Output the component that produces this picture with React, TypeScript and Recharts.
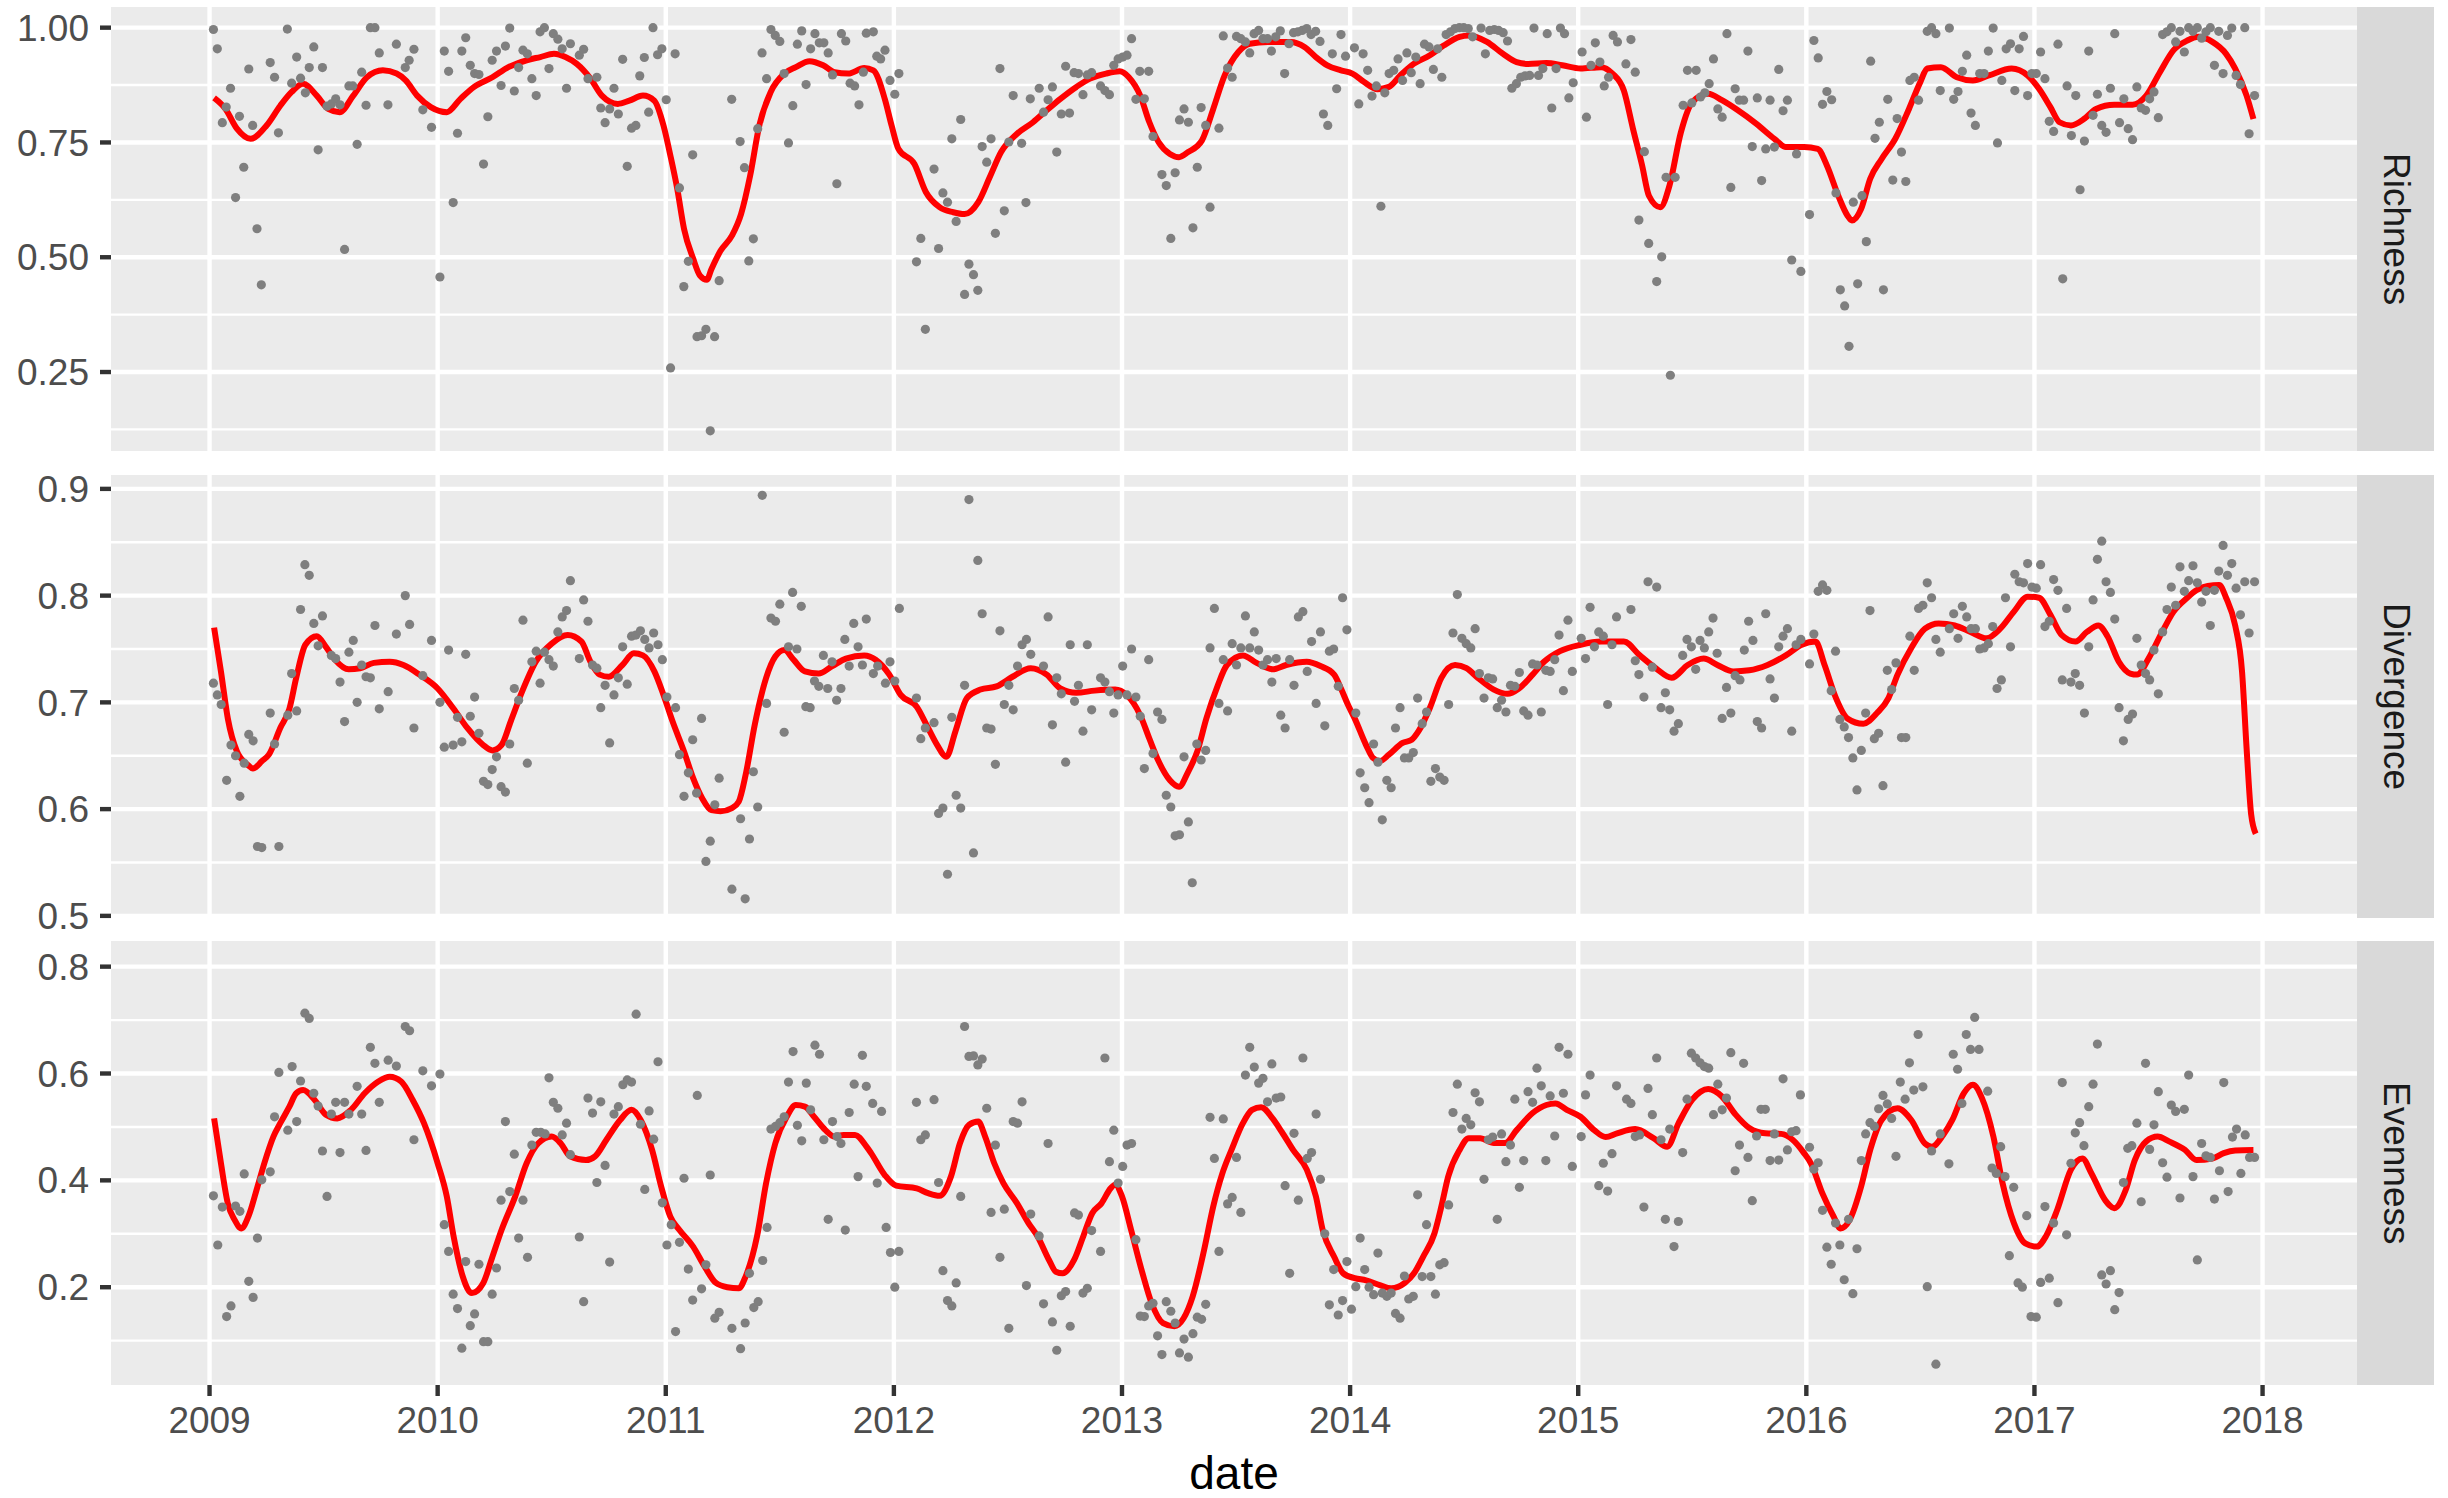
import { ComposedChart, Scatter, Line, XAxis, YAxis, CartesianGrid, ReferenceLine } from 'recharts';

// weekly index values as [decimal year, value]
const richnessPoints: [number, number][] = [
  [2009.017,0.996],[2009.034,0.954],[2009.056,0.793],[2009.073,0.827],[2009.092,0.868],[2009.114,0.630],[2009.131,0.807],[2009.150,0.696],[2009.172,0.910],[2009.189,0.787],
  [2009.208,0.562],[2009.227,0.440],[2009.266,0.924],[2009.285,0.892],[2009.302,0.771],[2009.341,0.997],[2009.360,0.879],[2009.382,0.936],[2009.399,0.890],[2009.420,0.858],
  [2009.437,0.913],[2009.457,0.958],[2009.476,0.734],[2009.495,0.913],[2009.515,0.829],[2009.534,0.834],[2009.553,0.845],[2009.572,0.832],[2009.592,0.517],[2009.611,0.873],
  [2009.628,0.873],[2009.647,0.746],[2009.667,0.903],[2009.686,0.831],[2009.705,1.0],[2009.725,1.0],[2009.744,0.945],[2009.782,0.832],[2009.819,0.964],[2009.858,0.913],
  [2009.875,0.929],[2009.896,0.953],[2009.935,0.821],[2009.973,0.783],[2010.010,0.457],[2010.029,0.949],[2010.048,0.905],[2010.068,0.619],[2010.087,0.770],[2010.106,0.949],
  [2010.123,0.978],[2010.143,0.918],[2010.162,0.900],[2010.181,0.898],[2010.201,0.703],[2010.220,0.806],[2010.239,0.929],[2010.258,0.949],[2010.278,0.874],[2010.297,0.960],
  [2010.316,0.999],[2010.336,0.862],[2010.355,0.913],[2010.374,0.951],[2010.393,0.943],[2010.413,0.889],[2010.432,0.852],[2010.449,0.991],[2010.468,1.0],[2010.488,0.911],
  [2010.507,0.987],[2010.527,0.975],[2010.546,0.954],[2010.565,0.868],[2010.582,0.965],[2010.621,0.940],[2010.640,0.953],[2010.659,0.889],[2010.698,0.892],[2010.715,0.825],
  [2010.734,0.793],[2010.754,0.823],[2010.773,0.868],[2010.792,0.812],[2010.811,0.931],[2010.831,0.698],[2010.850,0.781],[2010.869,0.787],[2010.886,0.895],[2010.906,0.935],
  [2010.925,0.816],[2010.944,1.0],[2010.964,0.941],[2010.983,0.954],[2011.002,0.843],[2011.021,0.259],[2011.041,0.943],[2011.060,0.651],[2011.079,0.436],[2011.099,0.491],
  [2011.118,0.723],[2011.137,0.327],[2011.157,0.329],[2011.176,0.343],[2011.195,0.122],[2011.214,0.327],[2011.234,0.449],[2011.289,0.844],[2011.326,0.752],[2011.345,0.695],
  [2011.364,0.492],[2011.384,0.540],[2011.403,0.780],[2011.422,0.945],[2011.442,0.889],[2011.461,0.996],[2011.480,0.983],[2011.500,0.970],[2011.519,0.900],[2011.538,0.749],
  [2011.557,0.830],[2011.577,0.964],[2011.596,0.993],[2011.615,0.876],[2011.635,0.954],[2011.654,0.987],[2011.673,0.967],[2011.693,0.967],[2011.712,0.945],[2011.731,0.897],
  [2011.750,0.660],[2011.770,0.987],[2011.789,0.971],[2011.808,0.879],[2011.828,0.873],[2011.847,0.832],[2011.866,0.903],[2011.879,0.988],
  [2011.910,0.991],[2011.925,0.938],[2011.942,0.932],[2011.961,0.951],[2011.983,0.885],[2012.004,0.855],[2012.022,0.900],[2012.099,0.490],[2012.118,0.541],[2012.138,0.343],
  [2012.176,0.692],[2012.196,0.519],[2012.215,0.640],[2012.235,0.620],[2012.254,0.758],[2012.273,0.578],[2012.293,0.800],[2012.310,0.419],[2012.329,0.485],[2012.349,0.462],
  [2012.368,0.428],[2012.387,0.741],[2012.407,0.707],[2012.426,0.758],[2012.445,0.552],[2012.465,0.911],[2012.484,0.601],[2012.504,0.751],[2012.523,0.852],[2012.560,0.748],
  [2012.579,0.619],[2012.598,0.845],[2012.637,0.868],[2012.656,0.816],[2012.676,0.843],[2012.695,0.871],[2012.714,0.729],[2012.734,0.812],[2012.753,0.916],[2012.770,0.814],
  [2012.790,0.902],[2012.809,0.900],[2012.829,0.854],[2012.848,0.897],[2012.867,0.902],[2012.906,0.873],[2012.925,0.863],[2012.945,0.854],[2012.964,0.918],[2012.983,0.932],
  [2013.003,0.936],[2013.022,0.940],[2013.042,0.976],[2013.061,0.844],[2013.078,0.905],[2013.098,0.845],[2013.117,0.905],[2013.136,0.763],[2013.175,0.680],[2013.194,0.656],
  [2013.214,0.541],[2013.233,0.684],[2013.252,0.799],[2013.272,0.823],[2013.291,0.794],[2013.311,0.564],[2013.330,0.696],[2013.347,0.826],[2013.367,0.787],[2013.386,0.609],
  [2013.425,0.781],[2013.444,0.982],[2013.463,0.912],[2013.483,0.892],[2013.502,0.981],[2013.521,0.976],[2013.541,0.969],[2013.560,0.945],[2013.579,0.987],[2013.599,0.994],
  [2013.618,0.976],[2013.638,0.976],[2013.655,0.949],[2013.674,0.980],[2013.694,0.993],[2013.713,0.900],[2013.732,0.965],[2013.752,0.989],[2013.771,0.991],[2013.790,0.994],
  [2013.810,0.998],[2013.829,0.985],[2013.849,0.992],[2013.868,0.970],[2013.883,0.812],[2013.902,0.787],[2013.922,0.943],[2013.941,0.867],[2013.960,0.985],[2013.980,0.938],
  [2014.019,0.956],[2014.038,0.834],[2014.057,0.943],[2014.077,0.907],[2014.096,0.851],[2014.115,0.873],[2014.135,0.611],[2014.152,0.858],[2014.171,0.900],[2014.191,0.907],
  [2014.210,0.932],[2014.230,0.885],[2014.249,0.945],[2014.268,0.902],[2014.288,0.936],[2014.307,0.878],[2014.326,0.964],[2014.346,0.958],[2014.365,0.909],[2014.384,0.954],
  [2014.402,0.892],[2014.421,0.985],[2014.440,0.991],[2014.460,0.998],[2014.479,1.0],[2014.498,1.0],[2014.518,0.998],[2014.537,0.980],[2014.574,0.999],[2014.593,0.943],
  [2014.612,0.994],[2014.632,0.996],[2014.651,0.994],[2014.671,0.989],[2014.690,0.971],[2014.709,0.868],[2014.729,0.878],[2014.748,0.892],[2014.767,0.895],[2014.787,0.896],
  [2014.806,0.999],[2014.826,0.896],[2014.845,0.911],[2014.864,0.987],[2014.884,0.825],[2014.903,0.911],[2014.922,0.999],[2014.940,0.987],[2014.959,0.847],[2014.978,0.880],
  [2015.017,0.947],[2015.036,0.805],[2015.056,0.918],[2015.075,0.967],[2015.095,0.925],[2015.114,0.873],[2015.133,0.892],[2015.153,0.983],[2015.172,0.969],
  [2015.209,0.921],[2015.231,0.974],[2015.250,0.903],[2015.266,0.581],[2015.290,0.730],[2015.309,0.530],[2015.344,0.447],[2015.366,0.501],[2015.385,0.674],[2015.404,0.243],
  [2015.425,0.674],[2015.460,0.831],[2015.479,0.907],[2015.498,0.836],[2015.517,0.907],[2015.536,0.849],[2015.555,0.858],[2015.574,0.878],[2015.593,0.932],[2015.612,0.823],
  [2015.631,0.805],[2015.652,0.987],[2015.669,0.652],[2015.688,0.867],[2015.706,0.842],[2015.725,0.842],[2015.744,0.949],[2015.763,0.741],[2015.785,0.847],[2015.804,0.667],
  [2015.822,0.736],[2015.841,0.842],[2015.860,0.740],[2015.879,0.909],[2015.898,0.819],[2015.917,0.842],[2015.936,0.494],[2015.957,0.725],[2015.976,0.469],[2016.014,0.593],
  [2016.033,0.972],[2016.052,0.934],[2016.071,0.833],[2016.090,0.861],[2016.111,0.843],[2016.130,0.640],[2016.149,0.429],[2016.168,0.394],[2016.187,0.306],[2016.206,0.620],
  [2016.225,0.442],[2016.244,0.634],[2016.263,0.534],[2016.282,0.927],[2016.301,0.759],[2016.320,0.794],[2016.338,0.429],[2016.357,0.844],[2016.379,0.668],[2016.398,0.802],
  [2016.417,0.729],[2016.436,0.665],[2016.454,0.885],[2016.473,0.892],[2016.492,0.842],[2016.530,0.992],[2016.549,1.0],[2016.568,0.987],[2016.587,0.863],[2016.627,0.999],
  [2016.646,0.844],[2016.665,0.861],[2016.684,0.905],[2016.703,0.940],[2016.722,0.814],[2016.741,0.787],[2016.760,0.900],[2016.779,0.900],[2016.798,0.949],[2016.819,0.999],
  [2016.838,0.749],[2016.857,0.885],[2016.876,0.954],[2016.895,0.965],[2016.914,0.863],[2016.933,0.954],[2016.952,0.981],[2016.970,0.852],[2016.989,0.900],[2017.008,0.900],
  [2017.027,0.947],[2017.046,0.889],[2017.065,0.796],[2017.084,0.774],[2017.103,0.964],[2017.124,0.453],[2017.143,0.873],[2017.162,0.765],[2017.181,0.852],[2017.200,0.647],
  [2017.219,0.753],[2017.238,0.949],[2017.257,0.809],[2017.276,0.855],[2017.295,0.787],[2017.314,0.772],[2017.333,0.868],[2017.352,0.987],[2017.373,0.793],[2017.392,0.845],
  [2017.411,0.780],[2017.430,0.756],[2017.449,0.871],[2017.468,0.825],[2017.487,0.820],[2017.505,0.845],[2017.524,0.860],[2017.543,0.804],[2017.562,0.985],[2017.581,0.991],
  [2017.600,1.0],[2017.619,0.969],[2017.638,0.992],[2017.657,0.947],[2017.676,1.0],[2017.695,0.992],[2017.714,1.0],[2017.733,0.977],[2017.752,0.991],[2017.771,1.0],
  [2017.789,0.918],[2017.808,0.992],[2017.827,0.900],[2017.846,0.983],[2017.865,0.999],[2017.884,0.896],[2017.903,0.876],[2017.922,1.0],[2017.941,0.769],[2017.965,0.852],
];

const richnessSmooth: [number, number][] = [
  [2009.02,0.847],[2009.07,0.823],[2009.12,0.780],[2009.18,0.758],[2009.25,0.787],[2009.31,0.830],[2009.36,0.860],[2009.41,0.878],[2009.47,0.852],[2009.52,0.823],
  [2009.57,0.816],[2009.63,0.852],[2009.69,0.892],[2009.76,0.907],[2009.82,0.900],[2009.86,0.885],[2009.91,0.852],[2009.97,0.827],[2010.04,0.816],[2010.10,0.845],
  [2010.16,0.871],[2010.24,0.892],[2010.31,0.914],[2010.39,0.929],[2010.45,0.936],[2010.51,0.943],[2010.56,0.936],[2010.61,0.921],[2010.67,0.889],[2010.72,0.852],
  [2010.79,0.834],[2010.84,0.841],[2010.90,0.852],[2010.95,0.841],[2010.99,0.787],[2011.02,0.722],[2011.05,0.650],[2011.08,0.562],[2011.12,0.497],[2011.15,0.460],
  [2011.18,0.451],[2011.20,0.474],[2011.24,0.514],[2011.29,0.547],[2011.33,0.594],[2011.37,0.678],[2011.41,0.787],[2011.46,0.860],[2011.52,0.900],[2011.57,0.914],
  [2011.63,0.927],[2011.69,0.918],[2011.74,0.903],[2011.80,0.900],[2011.87,0.912],[2011.91,0.907],[2011.96,0.845],[2011.99,0.787],[2012.02,0.736],[2012.09,0.703],
  [2012.14,0.642],[2012.20,0.609],[2012.26,0.598],[2012.31,0.594],[2012.37,0.620],[2012.42,0.674],[2012.47,0.729],[2012.54,0.769],[2012.61,0.794],[2012.67,0.820],
  [2012.73,0.845],[2012.80,0.871],[2012.86,0.889],[2012.93,0.900],[2012.99,0.905],[2013.03,0.892],[2013.08,0.852],[2013.12,0.794],[2013.16,0.751],[2013.21,0.725],
  [2013.25,0.718],[2013.29,0.729],[2013.35,0.754],[2013.40,0.823],[2013.45,0.896],[2013.51,0.947],[2013.56,0.965],[2013.64,0.969],[2013.74,0.969],[2013.80,0.958],
  [2013.85,0.936],[2013.90,0.918],[2013.96,0.907],[2014.01,0.900],[2014.06,0.882],[2014.12,0.866],[2014.17,0.871],[2014.22,0.896],[2014.27,0.918],[2014.35,0.940],
  [2014.41,0.961],[2014.48,0.980],[2014.52,0.983],[2014.60,0.969],[2014.67,0.943],[2014.73,0.925],[2014.78,0.921],[2014.86,0.923],[2014.93,0.918],[2015.01,0.911],
  [2015.10,0.914],[2015.15,0.900],[2015.20,0.863],[2015.24,0.780],[2015.28,0.700],[2015.31,0.634],[2015.36,0.609],[2015.40,0.656],[2015.45,0.772],[2015.50,0.838],
  [2015.57,0.856],[2015.63,0.842],[2015.70,0.820],[2015.78,0.791],[2015.86,0.758],[2015.91,0.740],[2015.99,0.740],[2016.05,0.736],[2016.09,0.700],[2016.14,0.634],
  [2016.18,0.591],[2016.20,0.580],[2016.24,0.605],[2016.28,0.671],[2016.33,0.714],[2016.39,0.758],[2016.45,0.823],[2016.50,0.882],[2016.53,0.911],[2016.59,0.914],
  [2016.66,0.892],[2016.73,0.885],[2016.80,0.896],[2016.90,0.911],[2016.97,0.896],[2017.02,0.867],[2017.07,0.827],[2017.11,0.794],[2017.16,0.787],[2017.22,0.802],
  [2017.27,0.823],[2017.35,0.832],[2017.43,0.832],[2017.49,0.852],[2017.55,0.903],[2017.61,0.951],[2017.67,0.972],[2017.72,0.980],[2017.78,0.969],[2017.84,0.943],
  [2017.88,0.911],[2017.93,0.852],[2017.96,0.801],
];

const divergencePoints: [number, number][] = [
  [2009.017,0.718],[2009.034,0.707],[2009.051,0.698],[2009.075,0.627],[2009.094,0.660],[2009.114,0.650],[2009.133,0.612],[2009.152,0.643],[2009.172,0.670],[2009.191,0.664],
  [2009.210,0.565],[2009.229,0.564],[2009.266,0.690],[2009.285,0.661],[2009.304,0.565],[2009.343,0.688],[2009.360,0.727],[2009.382,0.692],[2009.399,0.787],[2009.418,0.829],
  [2009.437,0.819],[2009.457,0.774],[2009.476,0.753],[2009.495,0.781],[2009.534,0.744],[2009.553,0.741],[2009.572,0.719],[2009.592,0.682],[2009.611,0.747],[2009.630,0.758],
  [2009.647,0.700],[2009.667,0.735],[2009.686,0.724],[2009.705,0.723],[2009.725,0.772],[2009.744,0.694],[2009.783,0.710],[2009.819,0.764],[2009.858,0.800],[2009.877,0.773],
  [2009.896,0.676],[2009.935,0.725],[2009.973,0.758],[2010.010,0.700],[2010.029,0.658],[2010.048,0.749],[2010.068,0.660],[2010.087,0.686],[2010.106,0.663],[2010.123,0.745],
  [2010.143,0.687],[2010.162,0.705],[2010.181,0.671],[2010.201,0.626],[2010.220,0.623],[2010.239,0.637],[2010.258,0.649],[2010.278,0.621],[2010.297,0.616],[2010.316,0.661],
  [2010.336,0.713],[2010.355,0.702],[2010.374,0.777],[2010.393,0.643],[2010.413,0.738],[2010.432,0.748],[2010.449,0.718],[2010.468,0.747],[2010.488,0.740],[2010.507,0.734],
  [2010.527,0.766],[2010.546,0.780],[2010.565,0.786],[2010.582,0.814],[2010.621,0.741],[2010.640,0.796],[2010.659,0.776],[2010.679,0.735],[2010.698,0.732],[2010.715,0.695],
  [2010.734,0.716],[2010.754,0.662],[2010.773,0.707],[2010.792,0.723],[2010.811,0.752],[2010.831,0.717],[2010.850,0.762],[2010.869,0.763],[2010.889,0.767],[2010.908,0.759],
  [2010.927,0.751],[2010.947,0.765],[2010.966,0.754],[2010.985,0.740],[2011.005,0.705],[2011.043,0.695],[2011.060,0.651],[2011.080,0.612],[2011.099,0.634],[2011.118,0.665],
  [2011.135,0.615],[2011.157,0.685],[2011.176,0.551],[2011.195,0.570],[2011.215,0.604],[2011.234,0.629],[2011.290,0.525],[2011.328,0.591],[2011.348,0.516],[2011.367,0.572],
  [2011.384,0.635],[2011.403,0.602],[2011.423,0.894],[2011.442,0.699],[2011.461,0.779],[2011.481,0.776],[2011.500,0.792],[2011.519,0.672],[2011.538,0.752],[2011.556,0.803],
  [2011.575,0.750],[2011.594,0.790],[2011.614,0.696],[2011.633,0.695],[2011.652,0.720],[2011.671,0.715],[2011.691,0.744],[2011.710,0.713],[2011.729,0.738],[2011.749,0.702],
  [2011.768,0.713],[2011.785,0.759],[2011.804,0.734],[2011.824,0.774],[2011.843,0.752],[2011.862,0.735],[2011.879,0.778],
  [2011.910,0.727],[2011.929,0.734],[2011.963,0.718],[2011.983,0.738],[2012.004,0.720],[2012.024,0.788],[2012.099,0.704],[2012.118,0.666],[2012.138,0.676],[2012.176,0.681],
  [2012.196,0.596],[2012.215,0.601],[2012.235,0.539],[2012.254,0.686],[2012.273,0.613],[2012.293,0.601],[2012.310,0.716],[2012.329,0.890],[2012.349,0.559],[2012.368,0.833],
  [2012.387,0.783],[2012.407,0.676],[2012.426,0.675],[2012.445,0.642],[2012.465,0.767],[2012.484,0.698],[2012.504,0.716],[2012.523,0.693],[2012.542,0.734],[2012.562,0.754],
  [2012.581,0.759],[2012.600,0.745],[2012.656,0.734],[2012.676,0.780],[2012.695,0.679],[2012.714,0.723],[2012.734,0.708],[2012.753,0.644],[2012.773,0.754],[2012.792,0.701],
  [2012.809,0.716],[2012.829,0.673],[2012.848,0.754],[2012.867,0.693],[2012.906,0.723],[2012.925,0.719],[2012.945,0.710],[2012.964,0.690],[2012.983,0.707],[2013.003,0.734],
  [2013.022,0.707],[2013.042,0.750],[2013.061,0.705],[2013.080,0.687],[2013.098,0.638],[2013.117,0.740],[2013.136,0.652],[2013.156,0.691],[2013.175,0.684],[2013.194,0.613],
  [2013.214,0.602],[2013.233,0.575],[2013.252,0.576],[2013.272,0.649],[2013.291,0.588],[2013.308,0.531],[2013.328,0.661],[2013.347,0.646],[2013.367,0.655],[2013.386,0.751],
  [2013.405,0.788],[2013.425,0.699],[2013.444,0.740],[2013.463,0.692],[2013.483,0.755],[2013.502,0.735],[2013.521,0.751],[2013.541,0.781],[2013.560,0.751],[2013.580,0.766],
  [2013.599,0.749],[2013.618,0.735],[2013.638,0.740],[2013.657,0.719],[2013.676,0.741],[2013.696,0.688],[2013.715,0.676],[2013.735,0.740],[2013.754,0.716],[2013.773,0.780],
  [2013.793,0.785],[2013.812,0.729],[2013.831,0.757],[2013.851,0.699],[2013.870,0.766],[2013.889,0.678],[2013.909,0.748],[2013.928,0.750],[2013.948,0.715],[2013.967,0.798],
  [2013.986,0.768],[2014.025,0.690],[2014.044,0.634],[2014.064,0.620],[2014.083,0.606],[2014.103,0.661],[2014.122,0.644],[2014.141,0.590],[2014.161,0.627],[2014.180,0.620],
  [2014.199,0.676],[2014.219,0.695],[2014.238,0.648],[2014.257,0.648],[2014.277,0.653],[2014.296,0.704],[2014.316,0.680],[2014.335,0.691],[2014.354,0.626],[2014.374,0.638],
  [2014.393,0.630],[2014.412,0.627],[2014.432,0.698],[2014.451,0.765],[2014.470,0.801],[2014.490,0.760],[2014.509,0.755],[2014.529,0.751],[2014.548,0.769],[2014.567,0.727],
  [2014.587,0.704],[2014.606,0.723],[2014.625,0.722],[2014.645,0.695],[2014.664,0.702],[2014.683,0.691],[2014.703,0.716],[2014.722,0.715],[2014.742,0.728],[2014.761,0.692],
  [2014.780,0.688],[2014.800,0.736],[2014.819,0.735],[2014.838,0.691],[2014.858,0.730],[2014.877,0.729],[2014.897,0.740],[2014.916,0.763],[2014.935,0.711],[2014.955,0.777],
  [2014.974,0.729],[2015.013,0.760],[2015.032,0.741],[2015.052,0.789],[2015.071,0.752],[2015.090,0.766],[2015.110,0.762],[2015.129,0.698],[2015.148,0.754],[2015.168,0.780],
  [2015.231,0.787],[2015.250,0.739],[2015.266,0.726],[2015.288,0.705],[2015.306,0.813],[2015.325,0.733],[2015.344,0.808],[2015.363,0.695],[2015.382,0.709],[2015.401,0.693],
  [2015.420,0.673],[2015.439,0.680],[2015.458,0.744],[2015.477,0.759],[2015.496,0.752],[2015.515,0.731],[2015.534,0.758],[2015.553,0.751],[2015.572,0.766],[2015.591,0.779],
  [2015.609,0.746],[2015.631,0.685],[2015.650,0.714],[2015.669,0.690],[2015.688,0.725],[2015.709,0.721],[2015.728,0.749],[2015.747,0.776],[2015.766,0.758],[2015.785,0.682],
  [2015.804,0.676],[2015.822,0.783],[2015.841,0.722],[2015.860,0.704],[2015.879,0.752],[2015.898,0.762],[2015.917,0.769],[2015.936,0.673],[2015.955,0.754],[2015.976,0.759],
  [2016.014,0.736],[2016.033,0.764],[2016.052,0.804],[2016.071,0.810],[2016.090,0.805],[2016.109,0.711],[2016.128,0.748],[2016.147,0.684],[2016.166,0.677],[2016.185,0.667],
  [2016.204,0.648],[2016.222,0.618],[2016.241,0.655],[2016.260,0.690],[2016.279,0.786],[2016.298,0.666],[2016.317,0.671],[2016.336,0.622],[2016.355,0.730],[2016.374,0.712],
  [2016.393,0.737],[2016.417,0.667],[2016.436,0.667],[2016.454,0.762],[2016.473,0.730],[2016.492,0.788],[2016.511,0.791],[2016.530,0.812],[2016.549,0.798],[2016.568,0.759],
  [2016.587,0.747],[2016.627,0.769],[2016.646,0.783],[2016.665,0.760],[2016.684,0.790],[2016.703,0.780],[2016.722,0.769],[2016.741,0.769],[2016.760,0.750],[2016.779,0.751],
  [2016.798,0.755],[2016.817,0.771],[2016.836,0.713],[2016.855,0.721],[2016.873,0.798],[2016.895,0.752],[2016.914,0.820],[2016.933,0.813],[2016.952,0.812],[2016.970,0.830],
  [2016.989,0.808],[2017.008,0.807],[2017.027,0.829],[2017.046,0.771],[2017.065,0.776],[2017.084,0.815],[2017.103,0.805],[2017.122,0.721],[2017.141,0.788],[2017.160,0.719],
  [2017.179,0.727],[2017.198,0.716],[2017.219,0.690],[2017.238,0.752],[2017.257,0.796],[2017.276,0.834],[2017.295,0.851],[2017.314,0.813],[2017.333,0.803],[2017.352,0.778],
  [2017.371,0.695],[2017.390,0.664],[2017.411,0.684],[2017.430,0.689],[2017.449,0.760],[2017.468,0.735],[2017.487,0.727],[2017.505,0.721],[2017.524,0.749],[2017.543,0.708],
  [2017.562,0.766],[2017.581,0.787],[2017.600,0.808],[2017.619,0.791],[2017.638,0.827],[2017.657,0.804],[2017.676,0.814],[2017.695,0.828],[2017.714,0.812],[2017.733,0.794],
  [2017.752,0.804],[2017.771,0.772],[2017.789,0.805],[2017.808,0.823],[2017.827,0.847],[2017.846,0.819],[2017.865,0.830],[2017.884,0.807],[2017.903,0.782],[2017.922,0.813],
  [2017.941,0.765],[2017.965,0.813],
];

const divergenceSmooth: [number, number][] = [
  [2009.02,0.770],[2009.05,0.729],[2009.08,0.685],[2009.12,0.654],[2009.17,0.641],[2009.19,0.638],[2009.23,0.645],[2009.26,0.651],[2009.31,0.676],[2009.35,0.694],
  [2009.38,0.723],[2009.42,0.754],[2009.47,0.762],[2009.51,0.752],[2009.55,0.740],[2009.61,0.731],[2009.66,0.732],[2009.72,0.737],[2009.79,0.738],[2009.85,0.735],
  [2009.92,0.726],[2010.00,0.713],[2010.07,0.694],[2010.13,0.676],[2010.20,0.660],[2010.24,0.655],[2010.28,0.660],[2010.32,0.682],[2010.37,0.710],[2010.43,0.738],
  [2010.50,0.755],[2010.57,0.763],[2010.63,0.757],[2010.67,0.738],[2010.71,0.726],[2010.75,0.724],[2010.81,0.735],[2010.86,0.746],[2010.90,0.744],[2010.95,0.729],
  [2010.99,0.707],[2011.03,0.682],[2011.08,0.654],[2011.12,0.629],[2011.16,0.610],[2011.20,0.599],[2011.24,0.598],[2011.29,0.601],[2011.32,0.607],[2011.35,0.632],
  [2011.39,0.679],[2011.44,0.723],[2011.48,0.743],[2011.52,0.749],[2011.56,0.740],[2011.61,0.729],[2011.67,0.727],[2011.73,0.734],[2011.79,0.741],[2011.87,0.744],
  [2011.92,0.740],[2011.98,0.726],[2012.03,0.707],[2012.10,0.696],[2012.15,0.676],[2012.19,0.660],[2012.23,0.649],[2012.27,0.673],[2012.32,0.704],[2012.38,0.712],
  [2012.45,0.715],[2012.52,0.724],[2012.60,0.732],[2012.67,0.726],[2012.73,0.713],[2012.80,0.709],[2012.88,0.711],[2012.97,0.712],[2013.02,0.707],[2013.08,0.688],
  [2013.12,0.666],[2013.16,0.645],[2013.21,0.627],[2013.25,0.621],[2013.29,0.635],[2013.33,0.654],[2013.37,0.685],[2013.42,0.716],[2013.46,0.735],[2013.53,0.744],
  [2013.59,0.737],[2013.66,0.731],[2013.72,0.735],[2013.81,0.738],[2013.87,0.734],[2013.93,0.726],[2013.96,0.713],[2013.99,0.698],[2014.02,0.685],[2014.07,0.660],
  [2014.10,0.648],[2014.13,0.645],[2014.17,0.651],[2014.23,0.662],[2014.27,0.665],[2014.30,0.673],[2014.35,0.695],[2014.40,0.723],[2014.46,0.735],[2014.51,0.732],
  [2014.56,0.723],[2014.63,0.712],[2014.69,0.708],[2014.74,0.713],[2014.80,0.726],[2014.85,0.738],[2014.92,0.748],[2015.01,0.754],[2015.10,0.757],[2015.20,0.757],
  [2015.27,0.744],[2015.34,0.732],[2015.41,0.723],[2015.48,0.735],[2015.55,0.741],[2015.61,0.735],[2015.68,0.729],[2015.75,0.730],[2015.83,0.735],[2015.91,0.744],
  [2015.98,0.754],[2016.04,0.757],[2016.08,0.735],[2016.13,0.704],[2016.18,0.685],[2016.25,0.680],[2016.31,0.690],[2016.36,0.704],[2016.40,0.726],[2016.46,0.751],
  [2016.52,0.769],[2016.58,0.774],[2016.65,0.772],[2016.72,0.766],[2016.79,0.760],[2016.85,0.769],[2016.91,0.785],[2016.97,0.799],[2017.02,0.798],[2017.07,0.782],
  [2017.12,0.763],[2017.18,0.757],[2017.23,0.766],[2017.28,0.772],[2017.32,0.762],[2017.37,0.738],[2017.42,0.727],[2017.45,0.726],[2017.50,0.741],[2017.56,0.766],
  [2017.61,0.785],[2017.67,0.798],[2017.71,0.805],[2017.76,0.809],[2017.81,0.810],[2017.84,0.798],[2017.88,0.772],[2017.91,0.729],[2017.93,0.657],[2017.95,0.595],
  [2017.97,0.577],
];

const evennessPoints: [number, number][] = [
  [2009.017,0.371],[2009.036,0.279],[2009.056,0.350],[2009.075,0.145],[2009.094,0.165],[2009.114,0.352],[2009.133,0.342],[2009.152,0.412],[2009.172,0.211],[2009.191,0.181],
  [2009.210,0.292],[2009.229,0.401],[2009.266,0.416],[2009.285,0.519],[2009.304,0.602],[2009.343,0.494],[2009.362,0.613],[2009.382,0.510],[2009.399,0.586],[2009.418,0.713],
  [2009.437,0.703],[2009.457,0.563],[2009.476,0.539],[2009.495,0.455],[2009.515,0.370],[2009.534,0.524],[2009.553,0.546],[2009.572,0.452],[2009.592,0.546],[2009.611,0.524],
  [2009.647,0.576],[2009.667,0.524],[2009.686,0.456],[2009.705,0.649],[2009.725,0.619],[2009.744,0.546],[2009.783,0.625],[2009.819,0.614],[2009.858,0.688],[2009.877,0.680],
  [2009.896,0.476],[2009.935,0.605],[2009.973,0.577],[2010.010,0.599],[2010.029,0.317],[2010.048,0.267],[2010.068,0.187],[2010.087,0.160],[2010.106,0.086],[2010.123,0.248],
  [2010.143,0.128],[2010.162,0.150],[2010.181,0.243],[2010.201,0.098],[2010.220,0.098],[2010.239,0.187],[2010.258,0.236],[2010.278,0.363],[2010.297,0.510],[2010.316,0.379],
  [2010.336,0.449],[2010.355,0.292],[2010.374,0.363],[2010.394,0.256],[2010.413,0.466],[2010.432,0.490],[2010.452,0.490],[2010.471,0.487],[2010.488,0.592],[2010.507,0.546],
  [2010.527,0.535],[2010.546,0.485],[2010.565,0.507],[2010.582,0.448],[2010.621,0.294],[2010.640,0.173],[2010.659,0.554],[2010.679,0.526],[2010.698,0.396],[2010.715,0.547],
  [2010.734,0.428],[2010.754,0.247],[2010.773,0.524],[2010.792,0.538],[2010.812,0.579],[2010.831,0.588],[2010.850,0.584],[2010.870,0.711],[2010.889,0.505],[2010.908,0.383],
  [2010.927,0.530],[2010.947,0.477],[2010.966,0.622],[2010.985,0.358],[2011.005,0.279],[2011.024,0.317],[2011.043,0.117],[2011.060,0.284],[2011.080,0.404],[2011.099,0.234],
  [2011.118,0.176],[2011.138,0.559],[2011.157,0.197],[2011.176,0.242],[2011.195,0.410],[2011.215,0.142],[2011.234,0.153],[2011.290,0.123],[2011.328,0.085],[2011.348,0.133],
  [2011.367,0.226],[2011.386,0.162],[2011.405,0.173],[2011.425,0.250],[2011.444,0.312],[2011.461,0.496],[2011.481,0.501],[2011.500,0.508],[2011.519,0.519],[2011.538,0.584],
  [2011.558,0.641],[2011.577,0.503],[2011.596,0.474],[2011.616,0.582],[2011.635,0.532],[2011.654,0.653],[2011.674,0.636],[2011.693,0.476],[2011.712,0.327],[2011.731,0.510],
  [2011.751,0.482],[2011.768,0.469],[2011.787,0.307],[2011.804,0.527],[2011.826,0.580],[2011.843,0.407],[2011.862,0.634],[2011.879,0.576],
  [2011.907,0.544],[2011.927,0.395],[2011.946,0.529],[2011.966,0.312],[2011.985,0.265],[2012.004,0.200],[2012.022,0.267],[2012.099,0.546],[2012.118,0.476],[2012.138,0.485],
  [2012.176,0.551],[2012.196,0.396],[2012.215,0.231],[2012.235,0.175],[2012.254,0.165],[2012.273,0.208],[2012.293,0.370],[2012.310,0.688],[2012.329,0.632],[2012.349,0.633],
  [2012.368,0.616],[2012.387,0.627],[2012.407,0.535],[2012.426,0.340],[2012.445,0.466],[2012.465,0.256],[2012.484,0.346],[2012.504,0.123],[2012.523,0.510],[2012.542,0.507],
  [2012.562,0.547],[2012.581,0.203],[2012.600,0.337],[2012.637,0.296],[2012.656,0.169],[2012.676,0.469],[2012.695,0.135],[2012.714,0.082],[2012.734,0.184],[2012.753,0.192],
  [2012.773,0.127],[2012.792,0.339],[2012.809,0.335],[2012.829,0.189],[2012.848,0.198],[2012.867,0.306],[2012.906,0.267],[2012.925,0.629],[2012.945,0.435],[2012.964,0.494],
  [2012.983,0.395],[2013.003,0.426],[2013.022,0.466],[2013.042,0.469],[2013.061,0.289],[2013.080,0.146],[2013.098,0.145],[2013.117,0.165],[2013.136,0.170],[2013.156,0.109],
  [2013.175,0.074],[2013.194,0.173],[2013.214,0.155],[2013.233,0.133],[2013.252,0.077],[2013.272,0.103],[2013.291,0.069],[2013.311,0.113],[2013.330,0.144],[2013.349,0.140],
  [2013.367,0.168],[2013.386,0.518],[2013.405,0.441],[2013.425,0.267],[2013.444,0.515],[2013.463,0.356],[2013.483,0.368],[2013.502,0.443],[2013.521,0.340],[2013.541,0.597],
  [2013.560,0.649],[2013.580,0.612],[2013.599,0.582],[2013.618,0.591],[2013.638,0.547],[2013.657,0.618],[2013.676,0.554],[2013.696,0.556],[2013.715,0.390],[2013.735,0.226],
  [2013.754,0.488],[2013.773,0.363],[2013.793,0.629],[2013.812,0.441],[2013.831,0.452],[2013.851,0.524],[2013.870,0.402],[2013.889,0.300],[2013.909,0.167],[2013.928,0.233],
  [2013.948,0.148],[2013.967,0.175],[2013.986,0.248],[2014.006,0.159],[2014.025,0.201],[2014.044,0.292],[2014.064,0.233],[2014.083,0.200],[2014.103,0.186],[2014.122,0.264],
  [2014.141,0.189],[2014.161,0.183],[2014.180,0.189],[2014.199,0.151],[2014.219,0.142],[2014.238,0.221],[2014.257,0.178],[2014.277,0.183],[2014.296,0.373],[2014.316,0.220],
  [2014.335,0.317],[2014.354,0.220],[2014.374,0.187],[2014.393,0.242],[2014.412,0.246],[2014.432,0.354],[2014.451,0.527],[2014.470,0.580],[2014.490,0.496],[2014.509,0.516],
  [2014.529,0.504],[2014.548,0.564],[2014.567,0.547],[2014.587,0.402],[2014.606,0.476],[2014.625,0.481],[2014.645,0.327],[2014.664,0.487],[2014.683,0.435],[2014.703,0.466],
  [2014.722,0.552],[2014.742,0.387],[2014.761,0.437],[2014.780,0.566],[2014.800,0.546],[2014.819,0.610],[2014.838,0.577],[2014.858,0.437],[2014.877,0.558],[2014.897,0.483],
  [2014.916,0.649],[2014.935,0.563],[2014.955,0.636],[2014.974,0.426],[2015.013,0.482],[2015.032,0.560],[2015.052,0.597],[2015.090,0.390],[2015.110,0.432],[2015.129,0.380],
  [2015.148,0.450],[2015.168,0.577],
  [2015.212,0.552],[2015.231,0.544],[2015.250,0.482],[2015.269,0.485],[2015.288,0.350],[2015.306,0.572],[2015.325,0.523],[2015.344,0.629],[2015.363,0.476],[2015.382,0.327],
  [2015.401,0.496],[2015.420,0.276],[2015.439,0.323],[2015.458,0.452],[2015.477,0.552],[2015.496,0.638],[2015.515,0.629],[2015.534,0.620],[2015.553,0.613],[2015.572,0.610],
  [2015.593,0.523],[2015.612,0.580],[2015.631,0.532],[2015.650,0.554],[2015.669,0.639],[2015.688,0.418],[2015.707,0.466],[2015.725,0.619],[2015.744,0.443],[2015.763,0.362],
  [2015.782,0.483],[2015.801,0.533],[2015.820,0.533],[2015.841,0.437],[2015.860,0.487],[2015.879,0.438],[2015.898,0.590],[2015.917,0.457],[2015.936,0.491],[2015.955,0.493],
  [2015.974,0.560],[2016.014,0.462],[2016.033,0.421],[2016.052,0.433],[2016.071,0.344],[2016.090,0.275],[2016.109,0.243],[2016.128,0.320],[2016.147,0.279],[2016.166,0.214],
  [2016.185,0.327],[2016.204,0.188],[2016.222,0.272],[2016.241,0.437],[2016.260,0.487],[2016.279,0.508],[2016.298,0.501],[2016.317,0.534],[2016.336,0.559],[2016.355,0.543],
  [2016.374,0.516],[2016.393,0.445],[2016.412,0.584],[2016.433,0.552],[2016.452,0.620],[2016.471,0.569],[2016.490,0.673],[2016.511,0.575],[2016.530,0.201],[2016.549,0.455],
  [2016.568,0.056],[2016.587,0.487],[2016.625,0.431],[2016.644,0.636],[2016.663,0.608],[2016.682,0.544],[2016.701,0.673],[2016.720,0.645],[2016.738,0.705],[2016.757,0.645],
  [2016.795,0.567],[2016.814,0.423],[2016.833,0.413],[2016.852,0.463],[2016.871,0.407],[2016.890,0.259],[2016.909,0.387],[2016.928,0.208],[2016.947,0.200],[2016.966,0.334],
  [2016.985,0.145],[2017.008,0.144],[2017.027,0.209],[2017.046,0.351],[2017.065,0.217],[2017.084,0.320],[2017.103,0.171],[2017.122,0.583],[2017.141,0.298],[2017.160,0.432],
  [2017.179,0.489],[2017.198,0.508],[2017.217,0.465],[2017.238,0.538],[2017.257,0.580],[2017.276,0.655],[2017.295,0.223],[2017.314,0.206],[2017.333,0.231],[2017.352,0.158],
  [2017.371,0.190],[2017.390,0.396],[2017.409,0.460],[2017.427,0.465],[2017.449,0.507],[2017.468,0.360],[2017.487,0.619],[2017.505,0.458],[2017.524,0.504],[2017.543,0.566],
  [2017.562,0.433],[2017.581,0.406],[2017.600,0.541],[2017.619,0.529],[2017.638,0.367],[2017.657,0.533],[2017.676,0.597],[2017.695,0.407],[2017.714,0.251],[2017.733,0.469],
  [2017.752,0.446],[2017.771,0.443],[2017.789,0.365],[2017.811,0.418],[2017.830,0.583],[2017.849,0.379],[2017.868,0.481],[2017.886,0.496],[2017.905,0.413],[2017.924,0.485],
  [2017.943,0.443],[2017.965,0.443],
];

const evennessSmooth: [number, number][] = [
  [2009.02,0.516],[2009.05,0.432],[2009.08,0.357],[2009.11,0.326],[2009.14,0.310],[2009.17,0.332],[2009.21,0.388],[2009.24,0.432],[2009.28,0.482],[2009.31,0.507],
  [2009.35,0.538],[2009.38,0.563],[2009.41,0.569],[2009.46,0.551],[2009.51,0.523],[2009.56,0.516],[2009.62,0.532],[2009.68,0.563],[2009.74,0.585],[2009.79,0.594],
  [2009.84,0.585],[2009.89,0.551],[2009.94,0.507],[2010.00,0.432],[2010.04,0.370],[2010.07,0.295],[2010.11,0.220],[2010.15,0.189],[2010.20,0.208],[2010.24,0.257],
  [2010.28,0.307],[2010.34,0.370],[2010.39,0.432],[2010.44,0.469],[2010.50,0.482],[2010.54,0.469],[2010.58,0.445],[2010.65,0.438],[2010.69,0.445],[2010.74,0.476],
  [2010.80,0.513],[2010.85,0.532],[2010.89,0.513],[2010.94,0.457],[2010.98,0.388],[2011.02,0.332],[2011.06,0.307],[2011.12,0.276],[2011.17,0.239],[2011.22,0.208],
  [2011.27,0.200],[2011.32,0.198],[2011.35,0.220],[2011.40,0.295],[2011.44,0.395],[2011.48,0.469],[2011.53,0.519],[2011.57,0.541],[2011.61,0.538],[2011.65,0.519],
  [2011.70,0.494],[2011.74,0.482],[2011.78,0.485],[2011.83,0.485],[2011.88,0.463],[2011.90,0.451],[2011.96,0.410],[2012.01,0.390],[2012.10,0.385],[2012.15,0.376],
  [2012.20,0.371],[2012.25,0.407],[2012.29,0.470],[2012.33,0.504],[2012.37,0.510],[2012.40,0.482],[2012.44,0.432],[2012.48,0.395],[2012.54,0.357],[2012.59,0.320],
  [2012.63,0.295],[2012.68,0.251],[2012.71,0.229],[2012.74,0.226],[2012.79,0.251],[2012.83,0.295],[2012.87,0.339],[2012.91,0.357],[2012.95,0.385],[2012.97,0.392],
  [2013.00,0.370],[2013.04,0.307],[2013.09,0.226],[2013.13,0.170],[2013.18,0.133],[2013.23,0.127],[2013.27,0.142],[2013.31,0.183],[2013.36,0.270],[2013.40,0.351],
  [2013.44,0.413],[2013.48,0.457],[2013.53,0.507],[2013.57,0.532],[2013.61,0.537],[2013.66,0.516],[2013.70,0.491],[2013.75,0.457],[2013.81,0.420],[2013.85,0.370],
  [2013.88,0.307],[2013.93,0.257],[2013.97,0.226],[2014.02,0.217],[2014.07,0.213],[2014.13,0.204],[2014.18,0.198],[2014.24,0.208],[2014.28,0.226],[2014.32,0.257],
  [2014.37,0.301],[2014.40,0.351],[2014.43,0.407],[2014.48,0.457],[2014.52,0.479],[2014.57,0.479],[2014.63,0.470],[2014.68,0.470],[2014.73,0.494],[2014.80,0.526],
  [2014.86,0.541],[2014.90,0.544],[2014.95,0.532],[2015.01,0.519],[2015.07,0.494],[2015.12,0.481],[2015.17,0.488],[2015.25,0.496],[2015.33,0.479],[2015.39,0.463],
  [2015.44,0.507],[2015.50,0.551],[2015.57,0.571],[2015.63,0.557],[2015.69,0.523],[2015.75,0.498],[2015.82,0.488],[2015.89,0.487],[2015.94,0.476],[2015.99,0.451],
  [2016.02,0.432],[2016.07,0.376],[2016.12,0.332],[2016.15,0.310],[2016.19,0.326],[2016.24,0.388],[2016.28,0.457],[2016.33,0.513],[2016.40,0.535],[2016.46,0.513],
  [2016.52,0.469],[2016.55,0.463],[2016.60,0.485],[2016.64,0.513],[2016.69,0.563],[2016.73,0.579],[2016.77,0.554],[2016.82,0.482],[2016.86,0.395],[2016.91,0.320],
  [2016.96,0.282],[2017.01,0.276],[2017.05,0.295],[2017.10,0.345],[2017.16,0.420],[2017.21,0.441],[2017.25,0.413],[2017.31,0.363],[2017.35,0.348],[2017.40,0.382],
  [2017.44,0.438],[2017.49,0.473],[2017.54,0.482],[2017.59,0.473],[2017.66,0.457],[2017.71,0.438],[2017.78,0.441],[2017.83,0.451],[2017.88,0.456],[2017.96,0.457],
];

const yearTicks = [2009, 2010, 2011, 2012, 2013, 2014, 2015, 2016, 2017, 2018];
const xDomain: [number, number] = [2008.568, 2018.414];

const richnessTicks = [0.25, 0.5, 0.75, 1.0];
const richnessMinor = [0.125, 0.375, 0.625, 0.875];
const divergenceTicks = [0.5, 0.6, 0.7, 0.8, 0.9];
const divergenceMinor = [0.55, 0.65, 0.75, 0.85];
const evennessTicks = [0.2, 0.4, 0.6, 0.8];
const evennessMinor = [0.1, 0.3, 0.5, 0.7];

const FONT = '"Liberation Sans", Arial, Helvetica, sans-serif';
const MAJOR = 4.4;
const MINOR = 2.4;

const toXY = (rows: [number, number][]) => rows.map(([x, y]) => ({ x, y }));

const Dot = (props: any) => {
  const { cx, cy } = props;
  if (cx == null || cy == null) return null;
  return <circle cx={cx} cy={cy} r={4.6} fill="#7F7F7F" />;
};

type PanelProps = {
  label: string;
  points: [number, number][];
  smooth: [number, number][];
  domain: [number, number];
  ticks: number[];
  minor: number[];
  digits: number;
  top: number;
  plotTop: number;
  plotHeight: number;
  showX?: boolean;
};

const Panel = ({ label, points, smooth, domain, ticks, minor, digits, top, plotTop, plotHeight, showX }: PanelProps) => {
  const xAxisHeight = showX ? 62 : 0;
  const bottom = showX ? 0 : 20;
  const h = plotTop + plotHeight + xAxisHeight + bottom;
  return (
    <div style={{ position: 'absolute', left: 0, top, width: 2448, height: h }}>
      <ComposedChart width={2448} height={h} margin={{ top: plotTop, right: 91, bottom, left: 0 }}>
        <CartesianGrid fill="#EBEBEB" stroke="none" horizontal={false} vertical={false} />
        <XAxis
          type="number"
          dataKey="x"
          domain={xDomain}
          ticks={yearTicks}
          allowDataOverflow
          hide={!showX}
          height={xAxisHeight}
          axisLine={false}
          tickSize={11}
          tickMargin={11}
          tickLine={{ stroke: '#333333', strokeWidth: MAJOR }}
          tick={{ fontSize: 37, fill: '#4D4D4D', fontFamily: FONT }}
          interval={0}
        />
        <YAxis
          type="number"
          dataKey="y"
          domain={domain}
          ticks={ticks}
          allowDataOverflow
          width={111}
          axisLine={false}
          tickSize={11}
          tickMargin={11}
          tickLine={{ stroke: '#333333', strokeWidth: MAJOR }}
          tick={{ fontSize: 37, fill: '#4D4D4D', fontFamily: FONT }}
          tickFormatter={(v: number) => v.toFixed(digits)}
          interval={0}
        />
        {minor.map((v) => (
          <ReferenceLine key={`mi${v}`} y={v} stroke="#FFFFFF" strokeWidth={MINOR} />
        ))}
        {ticks.map((v) => (
          <ReferenceLine key={`ma${v}`} y={v} stroke="#FFFFFF" strokeWidth={MAJOR} />
        ))}
        {yearTicks.map((v) => (
          <ReferenceLine key={`yr${v}`} x={v} stroke="#FFFFFF" strokeWidth={MAJOR} />
        ))}
        <Scatter data={toXY(points)} dataKey="y" fill="#7F7F7F" shape={<Dot />} isAnimationActive={false} />
        <Line
          data={toXY(smooth)}
          dataKey="y"
          type="monotone"
          stroke="#FF0000"
          strokeWidth={6}
          dot={false}
          activeDot={false}
          isAnimationActive={false}
        />
      </ComposedChart>
      <div
        style={{
          position: 'absolute',
          left: 2357,
          top: plotTop,
          width: 77,
          height: plotHeight,
          background: '#D9D9D9',
          display: 'flex',
          alignItems: 'center',
          justifyContent: 'center',
        }}
      >
        <span style={{ writingMode: 'vertical-rl', fontFamily: FONT, fontSize: 37, color: '#1A1A1A' }}>{label}</span>
      </div>
    </div>
  );
};

const App = () => {
  return (
    <div style={{ position: 'absolute', left: 0, top: 0, width: 2448, height: 1498, background: '#FFFFFF', overflow: 'hidden' }}>
      <Panel label="Richness" points={richnessPoints} smooth={richnessSmooth} domain={[0.078, 1.045]}
        ticks={richnessTicks} minor={richnessMinor} digits={2} top={0} plotTop={7} plotHeight={444} />
      <Panel label="Divergence" points={divergencePoints} smooth={divergenceSmooth} domain={[0.498, 0.913]}
        ticks={divergenceTicks} minor={divergenceMinor} digits={1} top={465} plotTop={10} plotHeight={443} />
      <Panel label="Evenness" points={evennessPoints} smooth={evennessSmooth} domain={[0.017, 0.848]}
        ticks={evennessTicks} minor={evennessMinor} digits={1} top={931} plotTop={10} plotHeight={444} showX />
      <div style={{ position: 'absolute', left: 111, width: 2246, top: 1450, textAlign: 'center', fontFamily: FONT, fontSize: 46, lineHeight: '46px', color: '#000000' }}>
        date
      </div>
    </div>
  );
};

export default App;
